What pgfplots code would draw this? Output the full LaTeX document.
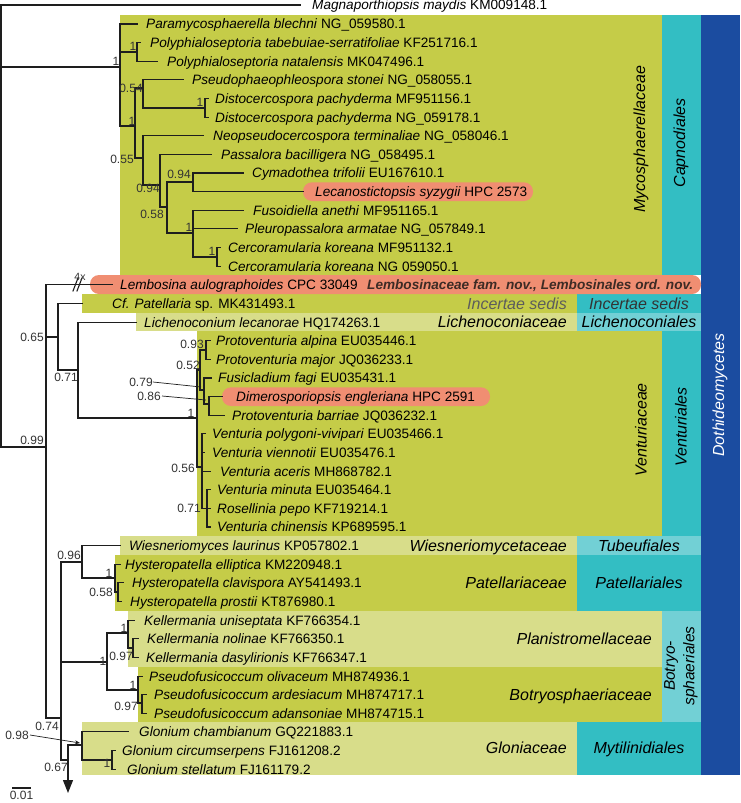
\documentclass[border=0pt]{standalone}
\usepackage{pgfplots}
\pgfplotsset{compat=1.18}
\usepackage{fontspec}
\setmainfont{Liberation Sans}
\usetikzlibrary{arrows.meta}
\definecolor{cg}{HTML}{C5CC48}
\definecolor{cgl}{HTML}{D8DD8A}
\definecolor{cor}{HTML}{F08E72}
\definecolor{ccy}{HTML}{33BEC3}
\definecolor{ccyl}{HTML}{72D0D5}
\definecolor{cbl}{HTML}{1B4CA0}
\definecolor{ctl}{HTML}{1E1E1E}
\definecolor{csup}{HTML}{333333}
\definecolor{cbr}{HTML}{3D2B25}
\newcommand{\fs}{\fontsize{13.6}{16}\selectfont}
\newcommand{\fl}{\fontsize{16}{19}\selectfont}
\newcommand{\fn}{\fontsize{12}{14}\selectfont}
\tikzset{
  tl/.style={color=ctl,line width=1.1pt,line cap=rect},
  sp/.style={anchor=west,inner sep=0pt,text height=9.8pt,text depth=0pt,font=\fs},
  sup/.style={inner sep=0pt,text height=8.6pt,text depth=0pt,font=\fn,text=csup},
  fam/.style={anchor=east,inner sep=0pt,text height=11.5pt,text depth=0pt,font=\fl\itshape},
  ord/.style={anchor=center,inner sep=0pt,text height=11.5pt,text depth=0pt,font=\fl\itshape},
}
\newcommand{\br}[1]{\addplot[tl] coordinates {#1};}
\newcommand{\bx}[5]{\addplot[fill=#1,draw=none] coordinates {(#2,#3) (#4,#3) (#4,#5) (#2,#5)};}
\newcommand{\tx}[3]{\node[sp] at (axis cs:#1,#2) {#3};}
\newcommand{\nl}[3]{\node[sup] at (axis cs:#1,#2) {#3};}
\begin{document}
\begin{tikzpicture}
\begin{axis}[width=740pt,height=803pt,scale only axis,
  xmin=0,xmax=740,ymin=0,ymax=803,y dir=reverse,
  axis line style={draw=none},ticks=none,clip=false,
  axis background/.style={fill=white},
]
% ---------- coloured boxes ----------
\bx{cg}{120}{14.7}{662}{275}
\bx{ccy}{662}{14.7}{701}{275}
\bx{cbl}{701}{14.7}{740}{775}
\bx{cg}{82}{294}{577}{312.8}
\bx{ccy}{577}{294}{701}{312.8}
\bx{cgl}{136}{312.8}{577}{331.4}
\bx{ccyl}{577}{312.8}{701}{331.4}
\bx{cg}{197}{331.4}{662}{536.3}
\bx{ccy}{662}{331.4}{701}{536.3}
\bx{cgl}{120}{536.3}{577}{555}
\bx{ccyl}{577}{536.3}{701}{555}
\bx{cg}{115}{555}{577}{611}
\bx{ccy}{577}{555}{701}{611}
\bx{cgl}{128}{611}{662}{667}
\bx{cg}{138}{667}{662}{722}
\bx{ccyl}{662}{611}{701}{722}
\bx{cgl}{82}{722}{577}{775}
\bx{ccy}{577}{722}{701}{775}
\addplot[fill=cor,draw=none,rounded corners=9pt] coordinates {(400,275) (701,275) (701,294) (90,294) (90,275) (400,275)};
\addplot[fill=cor,draw=none,rounded corners=9pt] coordinates {(400,182.3) (533,182.3) (533,201) (303,201) (303,182.3) (400,182.3)};
\addplot[fill=cor,draw=none,rounded corners=9pt] coordinates {(350,387.3) (490,387.3) (490,406) (222,406) (222,387.3) (350,387.3)};
% ---------- tree ----------
\br{(300,5) (1,5) (1,447) (46,447)}
\br{(1,67) (120,67)}
\br{(137,24) (120,24) (120,126) (135,126)}
\br{(120,52) (137,52)}
\br{(140,42.6) (137,42.6) (137,61.3) (157,61.3)}
\br{(143,88) (135,88) (135,158) (143,158)}
\br{(183,79.9) (143,79.9) (143,108) (205,108)}
\br{(208,98.5) (205,98.5) (205,117.2) (208,117.2)}
\br{(203,135.8) (143,135.8) (143,185) (160,185)}
\br{(211,154.4) (160,154.4) (160,207) (167,207)}
\br{(193,182) (167,182) (167,233) (193,233)}
\br{(243,173) (193,173) (193,191.7) (303,191.7)}
\br{(243,210.3) (193,210.3) (193,257) (217,257)}
\br{(193,228.9) (237,228.9)}
\br{(220,247.6) (217,247.6) (217,266.2) (220,266.2)}
\br{(112,284.8) (46,284.8) (46,718) (61,718)}
\br{(46,337) (58,337)}
\br{(82,303.5) (58,303.5) (58,370) (78,370)}
\br{(136,322.1) (78,322.1) (78,418) (197,418)}
\br{(200,370) (197,370) (197,467) (202,467)}
\br{(206,350) (200,350) (200,390) (204,390)}
\br{(210,340.7) (206,340.7) (206,359.3) (210,359.3)}
\br{(211,378) (204,378) (204,404) (209,404)}
\br{(222,396.6) (209,396.6) (209,415.2) (224,415.2)}
\br{(205,433.9) (202,433.9) (202,508.4) (207,508.4)}
\br{(202,452.5) (204,452.5)}
\br{(202,471.1) (210,471.1)}
\br{(210,489.8) (207,489.8) (207,527) (210,527)}
\br{(207,508.4) (210,508.4)}
\br{(82,562) (61,562) (61,760) (68,760)}
\br{(120,545.6) (82,545.6) (82,578) (115,578)}
\br{(120,564.3) (115,564.3) (115,592) (118,592)}
\br{(123,582.9) (118,582.9) (118,601.5) (121,601.5)}
\br{(61,662) (107,662)}
\br{(128,633) (107,633) (107,690) (138,690)}
\br{(134,620.2) (128,620.2) (128,648) (133,648)}
\br{(138,638.8) (133,638.8) (133,657.4) (138,657.4)}
\br{(142,676.1) (138,676.1) (138,703) (142,703)}
\br{(146,694.7) (142,694.7) (142,713.3) (146,713.3)}
\br{(128,731.9) (82,731.9) (82,760) (112,760)}
\br{(68,745) (82,745)}
\br{(115,750.6) (112,750.6) (112,769.2) (115,769.2)}
\addplot[tl,line cap=butt,-{Triangle[width=10pt,length=13pt]}] coordinates {(68,745) (68,793)};
\br{(73,291) (78,278)}
\br{(77,291) (82,278)}
\br{(13,788) (30,788)}
\addplot[color=ctl,line width=0.7pt] coordinates {(153,382) (201,387)};
\addplot[color=ctl,line width=0.7pt] coordinates {(162,396) (206,400)};
\addplot[color=ctl,line width=0.7pt,-{Stealth[length=5pt,width=4pt]}] coordinates {(30,735) (80,743)};
% ---------- taxa ----------
\tx{312}{5}{\textit{Magnaporthiopsis maydis} KM009148.1}
\tx{146}{24}{\textit{Paramycosphaerella blechni} NG\_059580.1}
\tx{150}{42.6}{\textit{Polyphialoseptoria tabebuiae-serratifoliae} KF251716.1}
\tx{167}{61.3}{\textit{Polyphialoseptoria natalensis} MK047496.1}
\tx{192}{79.9}{\textit{Pseudophaeophleospora stonei} NG\_058055.1}
\tx{215}{98.5}{\textit{Distocercospora pachyderma} MF951156.1}
\tx{215}{117.2}{\textit{Distocercospora pachyderma} NG\_059178.1}
\tx{213}{135.8}{\textit{Neopseudocercospora terminaliae} NG\_058046.1}
\tx{221}{154.4}{\textit{Passalora bacilligera} NG\_058495.1}
\tx{252}{173}{\textit{Cymadothea trifolii} EU167610.1}
\tx{315}{191.7}{\textit{Lecanostictopsis syzygii} HPC 2573}
\tx{253}{210.3}{\textit{Fusoidiella anethi} MF951165.1}
\tx{245}{228.9}{\textit{Pleuropassalora armatae} NG\_057849.1}
\tx{228}{247.6}{\textit{Cercoramularia koreana} MF951132.1}
\tx{228}{266.2}{\textit{Cercoramularia koreana} NG 059050.1}
\tx{120}{284.8}{\textit{Lembosina aulographoides} CPC 33049}
\node[sp,text=cbr] at (axis cs:367,284.8) {\bfseries\itshape Lembosinaceae fam. nov., Lembosinales ord. nov.};
\tx{112}{303.5}{\textit{Cf. Patellaria} sp. MK431493.1}
\tx{144}{322.1}{\textit{Lichenoconium lecanorae} HQ174263.1}
\tx{216}{340.7}{\textit{Protoventuria alpina} EU035446.1}
\tx{216}{359.3}{\textit{Protoventuria major} JQ036233.1}
\tx{218}{378}{\textit{Fusicladium fagi} EU035431.1}
\tx{236}{396.6}{\textit{Dimerosporiopsis engleriana} HPC 2591}
\tx{232}{415.2}{\textit{Protoventuria barriae} JQ036232.1}
\tx{212}{433.9}{\textit{Venturia polygoni-vivipari} EU035466.1}
\tx{212}{452.5}{\textit{Venturia viennotii} EU035476.1}
\tx{220}{471.1}{\textit{Venturia aceris} MH868782.1}
\tx{217}{489.8}{\textit{Venturia minuta} EU035464.1}
\tx{217}{508.4}{\textit{Rosellinia pepo} KF719214.1}
\tx{217}{527}{\textit{Venturia chinensis} KP689595.1}
\tx{129}{545.6}{\textit{Wiesneriomyces laurinus} KP057802.1}
\tx{125}{564.3}{\textit{Hysteropatella elliptica} KM220948.1}
\tx{132}{582.9}{\textit{Hysteropatella clavispora} AY541493.1}
\tx{130}{601.5}{\textit{Hysteropatella prostii} KT876980.1}
\tx{144}{620.2}{\textit{Kellermania uniseptata} KF766354.1}
\tx{147}{638.8}{\textit{Kellermania nolinae} KF766350.1}
\tx{146}{657.4}{\textit{Kellermania dasylirionis} KF766347.1}
\tx{149}{676.1}{\textit{Pseudofusicoccum olivaceum} MH874936.1}
\tx{154}{694.7}{\textit{Pseudofusicoccum ardesiacum} MH874717.1}
\tx{154}{713.3}{\textit{Pseudofusicoccum adansoniae} MH874715.1}
\tx{139}{731.9}{\textit{Glonium chambianum} GQ221883.1}
\tx{122}{750.6}{\textit{Glonium circumserpens} FJ161208.2}
\tx{127}{769.2}{\textit{Glonium stellatum} FJ161179.2}
% ---------- support values ----------
\nl{116}{61}{1}
\nl{133}{46}{1}
\nl{131}{88}{0.54}
\nl{200}{102}{1}
\nl{132}{121}{1}
\nl{122}{159}{0.55}
\nl{179}{174}{0.94}
\nl{148}{188}{0.94}
\nl{152}{214}{0.58}
\nl{189}{227}{1}
\nl{212}{251}{1}
\node[sup,font=\fontsize{10.5}{12}\selectfont] at (axis cs:80,276) {4x};
\nl{32}{337}{0.65}
\nl{66}{377}{0.71}
\nl{192}{344}{0.93}
\nl{188}{365}{0.52}
\nl{141}{382}{0.79}
\nl{149}{396}{0.86}
\nl{191}{413}{1}
\nl{32}{440}{0.99}
\nl{183}{468}{0.56}
\nl{189}{508}{0.71}
\nl{69}{555}{0.96}
\nl{109}{573}{1}
\nl{101}{592}{0.58}
\nl{124}{628}{1}
\nl{103}{661}{1}
\nl{121}{656}{0.97}
\nl{133}{685}{1}
\nl{126}{706}{0.97}
\nl{47}{726}{0.74}
\nl{17}{735}{0.98}
\nl{107}{763}{1}
\nl{56}{767}{0.67}
\nl{21.5}{795.5}{0.01}
% ---------- group labels ----------
\node[rotate=90,inner sep=0pt,font=\fl\itshape] at (axis cs:641,139) {Mycosphaerellaceae};
\node[rotate=90,inner sep=0pt,font=\fl\itshape] at (axis cs:681,143) {Capnodiales};
\node[fam,text=csup!80] at (axis cs:567,303.5) {Incertae sedis};
\node[ord,text=csup] at (axis cs:639,303.5) {Incertae sedis};
\node[fam] at (axis cs:567,322.1) {Lichenoconiaceae};
\node[ord] at (axis cs:639,322.1) {Lichenoconiales};
\node[rotate=90,inner sep=0pt,font=\fl\itshape] at (axis cs:641,430) {Venturiaceae};
\node[rotate=90,inner sep=0pt,font=\fl\itshape] at (axis cs:681,427) {Venturiales};
\node[rotate=90,inner sep=0pt,font=\fl\itshape,text=white] at (axis cs:720,395) {Dothideomycetes};
\node[fam] at (axis cs:567,545.6) {Wiesneriomycetaceae};
\node[ord] at (axis cs:639,545.6) {Tubeufiales};
\node[fam] at (axis cs:567,582.9) {Patellariaceae};
\node[ord] at (axis cs:639,582.9) {Patellariales};
\node[fam] at (axis cs:652,638.8) {Planistromellaceae};
\node[fam] at (axis cs:652,694.7) {Botryosphaeriaceae};
\node[rotate=90,inner sep=0pt,align=center,font=\fontsize{15.5}{19.5}\selectfont\itshape] at (axis cs:681,666) {Botryo-\\sphaeriales};
\node[fam] at (axis cs:567,748) {Gloniaceae};
\node[ord] at (axis cs:639,748) {Mytilinidiales};
\end{axis}
\end{tikzpicture}
\end{document}
